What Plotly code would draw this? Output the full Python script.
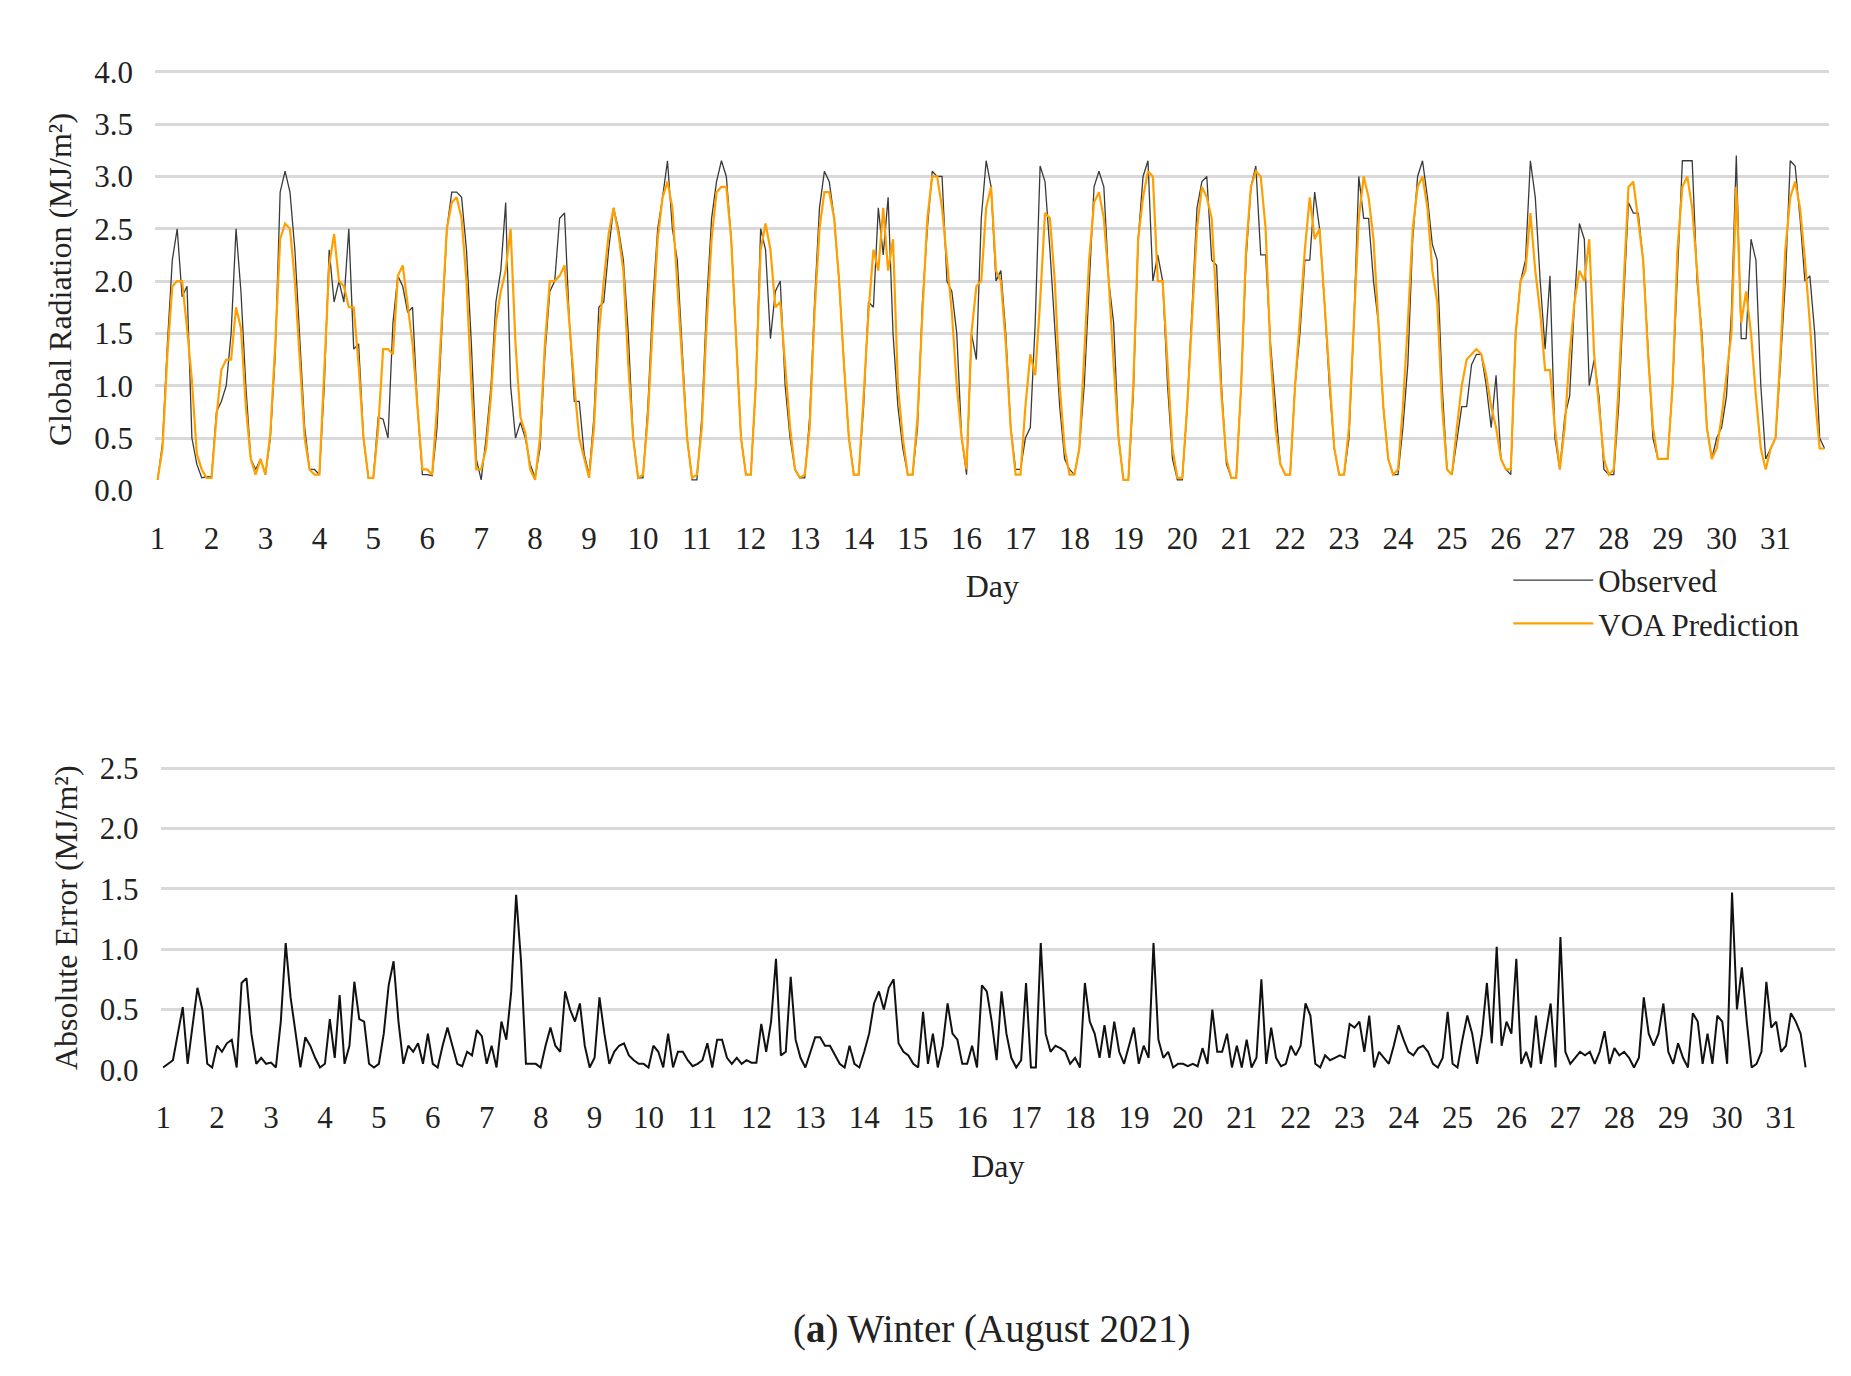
import plotly.graph_objects as go

days = [str(d) for d in range(1, 32)]
# hourly (daylight) values per day, 11 points each
observed = [
 [0.1,0.45,1.4,2.2,2.5,1.85,1.95,0.5,0.25,0.12,0.13],
 [0.13,0.75,0.85,1.0,1.5,2.5,1.9,1.0,0.3,0.2,0.3],
 [0.15,0.5,1.3,2.85,3.05,2.85,2.3,1.5,0.6,0.2,0.2],
 [0.15,1.0,2.3,1.8,2.0,1.8,2.5,1.35,1.4,0.5,0.12],
 [0.12,0.7,0.68,0.5,1.6,2.05,1.95,1.7,1.75,0.8,0.15],
 [0.15,0.14,0.6,1.5,2.5,2.85,2.85,2.8,2.3,1.4,0.3],
 [0.1,0.5,1.0,1.8,2.1,2.75,1.0,0.5,0.65,0.5,0.25],
 [0.12,0.4,1.3,1.9,2.0,2.6,2.65,1.6,0.85,0.85,0.35],
 [0.15,0.7,1.75,1.8,2.3,2.7,2.5,2.2,1.5,0.5,0.12],
 [0.12,0.8,1.8,2.5,2.8,3.15,2.5,2.2,1.3,0.5,0.1],
 [0.1,0.7,1.8,2.6,2.95,3.15,3.0,2.4,1.5,0.5,0.15],
 [0.15,1.0,2.5,2.3,1.45,1.9,2.0,1.0,0.5,0.2,0.12],
 [0.12,0.7,1.8,2.7,3.05,2.95,2.6,2.0,1.2,0.5,0.15],
 [0.15,0.8,1.8,1.75,2.7,2.25,2.8,1.5,0.8,0.4,0.15],
 [0.15,0.6,1.8,2.5,3.05,3.0,3.0,2.0,1.9,1.5,0.5],
 [0.15,1.5,1.25,2.6,3.15,2.9,2.0,2.1,1.5,0.6,0.2],
 [0.2,0.5,0.6,1.6,3.1,2.95,2.3,1.6,0.8,0.3,0.2],
 [0.15,0.4,1.0,2.0,2.9,3.05,2.9,2.0,1.6,0.5,0.1],
 [0.1,0.9,2.4,3.0,3.15,2.0,2.25,2.0,1.0,0.3,0.1],
 [0.1,0.8,1.7,2.7,2.95,3.0,2.2,2.15,1.0,0.25,0.12],
 [0.12,1.0,2.2,2.9,3.1,2.25,2.25,1.4,0.8,0.25,0.15],
 [0.15,1.0,1.5,2.2,2.2,2.85,2.5,1.8,1.0,0.4,0.15],
 [0.15,0.5,1.6,3.0,2.6,2.6,2.0,1.6,0.8,0.3,0.15],
 [0.15,0.6,1.2,2.4,3.0,3.15,2.8,2.35,2.2,1.0,0.2],
 [0.15,0.5,0.8,0.8,1.2,1.3,1.3,1.0,0.6,1.1,0.3],
 [0.2,0.15,1.5,2.0,2.2,3.15,2.8,2.0,1.35,2.05,0.5],
 [0.2,0.7,0.9,1.8,2.55,2.4,1.0,1.25,0.9,0.2,0.15],
 [0.15,0.8,1.8,2.75,2.65,2.65,2.2,1.4,0.5,0.3,0.3],
 [0.3,1.0,2.0,3.15,3.15,3.15,2.0,1.5,0.6,0.3,0.5],
 [0.6,0.9,1.7,3.2,1.45,1.45,2.4,2.2,1.0,0.3,0.4],
 [0.5,1.2,2.0,3.15,3.1,2.6,2.0,2.05,1.5,0.5,0.4],
]
predicted = [
 [0.1,0.4,1.3,1.95,2.0,2.0,1.55,1.05,0.35,0.2,0.12],
 [0.12,0.7,1.15,1.25,1.25,1.75,1.55,0.8,0.3,0.15,0.3],
 [0.15,0.55,1.4,2.4,2.55,2.5,2.0,1.2,0.5,0.2,0.15],
 [0.15,1.2,2.15,2.45,2.0,1.95,1.75,1.75,1.2,0.5,0.12],
 [0.12,0.6,1.35,1.35,1.3,2.05,2.15,1.8,1.4,0.8,0.2],
 [0.2,0.15,0.8,1.7,2.5,2.75,2.8,2.6,2.0,1.0,0.2],
 [0.2,0.4,0.9,1.6,1.9,2.1,2.5,1.4,0.7,0.55,0.2],
 [0.1,0.5,1.4,2.0,2.0,2.05,2.15,1.6,1.0,0.5,0.3],
 [0.12,0.6,1.5,2.0,2.45,2.7,2.45,2.1,1.2,0.5,0.12],
 [0.15,0.7,1.6,2.4,2.8,2.95,2.7,2.0,1.2,0.5,0.12],
 [0.15,0.6,1.6,2.4,2.85,2.9,2.9,2.4,1.5,0.5,0.15],
 [0.15,1.0,2.3,2.55,2.3,1.75,1.8,1.2,0.6,0.2,0.12],
 [0.15,0.6,1.7,2.5,2.85,2.85,2.6,2.0,1.2,0.5,0.15],
 [0.15,0.9,1.7,2.3,2.1,2.7,2.1,2.4,1.0,0.5,0.15],
 [0.15,0.7,1.7,2.6,3.0,3.0,2.7,2.2,1.7,1.0,0.5],
 [0.2,1.5,1.95,2.0,2.7,2.9,2.1,2.0,1.4,0.6,0.15],
 [0.15,0.8,1.3,1.1,1.8,2.65,2.6,2.0,1.0,0.4,0.15],
 [0.15,0.4,1.3,2.2,2.75,2.85,2.6,2.0,1.2,0.5,0.1],
 [0.1,1.0,2.4,2.8,3.05,3.0,2.0,2.0,1.2,0.4,0.12],
 [0.12,0.8,1.7,2.5,2.9,2.8,2.6,1.8,0.9,0.3,0.12],
 [0.12,1.0,2.3,2.9,3.05,3.0,2.5,1.3,0.6,0.25,0.15],
 [0.15,1.0,1.7,2.3,2.8,2.4,2.5,1.8,1.0,0.4,0.15],
 [0.15,0.6,1.6,2.6,3.0,2.8,2.4,1.6,0.8,0.3,0.15],
 [0.2,0.8,1.6,2.5,2.9,3.0,2.7,2.1,1.8,0.8,0.2],
 [0.15,0.6,1.0,1.25,1.3,1.35,1.3,1.1,0.8,0.6,0.3],
 [0.2,0.2,1.5,2.0,2.1,2.65,2.1,1.7,1.15,1.15,0.6],
 [0.2,0.6,1.3,1.8,2.1,2.0,2.4,1.3,0.8,0.3,0.15],
 [0.2,1.0,2.0,2.9,2.95,2.6,2.2,1.3,0.6,0.3,0.3],
 [0.3,1.0,2.3,2.9,3.0,2.7,2.1,1.4,0.6,0.3,0.4],
 [0.7,1.1,1.5,2.9,1.6,1.9,1.5,0.9,0.4,0.2,0.4],
 [0.5,1.3,2.3,2.8,2.95,2.7,2.2,1.6,0.9,0.4,0.4],
]
abs_error = [
 [0.02,0.05,0.08,0.3,0.52,0.05,0.35,0.68,0.5,0.05,0.02],
 [0.2,0.15,0.22,0.25,0.02,0.72,0.76,0.3,0.05,0.1,0.05],
 [0.06,0.02,0.4,1.05,0.6,0.3,0.02,0.27,0.2,0.1,0.02],
 [0.05,0.42,0.1,0.62,0.05,0.2,0.73,0.42,0.4,0.05,0.02],
 [0.05,0.3,0.7,0.9,0.4,0.05,0.2,0.15,0.22,0.05,0.3],
 [0.05,0.02,0.2,0.35,0.2,0.05,0.03,0.15,0.12,0.33,0.28],
 [0.05,0.2,0.02,0.4,0.25,0.65,1.45,0.9,0.05,0.05,0.05],
 [0.02,0.2,0.35,0.2,0.15,0.65,0.5,0.4,0.55,0.2,0.02],
 [0.1,0.6,0.3,0.05,0.15,0.2,0.22,0.12,0.08,0.05,0.05],
 [0.02,0.2,0.15,0.02,0.3,0.02,0.15,0.15,0.08,0.03,0.05],
 [0.08,0.22,0.02,0.25,0.25,0.1,0.05,0.1,0.05,0.08,0.06],
 [0.06,0.38,0.15,0.4,0.92,0.12,0.15,0.77,0.25,0.1,0.02],
 [0.15,0.27,0.27,0.2,0.2,0.12,0.05,0.02,0.2,0.05,0.02],
 [0.15,0.3,0.55,0.65,0.5,0.68,0.75,0.22,0.15,0.12,0.05],
 [0.02,0.48,0.05,0.3,0.02,0.2,0.55,0.3,0.25,0.05,0.05],
 [0.2,0.02,0.7,0.65,0.4,0.08,0.65,0.3,0.1,0.02,0.08],
 [0.72,0.02,0.02,1.05,0.3,0.15,0.2,0.18,0.15,0.05,0.1],
 [0.02,0.72,0.4,0.3,0.1,0.37,0.1,0.4,0.15,0.05,0.2],
 [0.35,0.05,0.2,0.1,1.05,0.25,0.1,0.15,0.02,0.05,0.05],
 [0.03,0.05,0.03,0.18,0.05,0.5,0.15,0.15,0.3,0.02,0.2],
 [0.02,0.25,0.02,0.1,0.75,0.05,0.35,0.1,0.03,0.05,0.2],
 [0.12,0.2,0.55,0.45,0.05,0.02,0.12,0.08,0.1,0.12,0.1],
 [0.38,0.35,0.4,0.15,0.45,0.02,0.15,0.1,0.05,0.2,0.37],
 [0.25,0.15,0.12,0.18,0.2,0.15,0.05,0.02,0.1,0.48,0.05],
 [0.02,0.25,0.45,0.3,0.05,0.3,0.72,0.22,1.02,0.2,0.4],
 [0.3,0.92,0.05,0.15,0.02,0.45,0.05,0.3,0.55,0.02,1.1],
 [0.15,0.05,0.1,0.15,0.12,0.15,0.05,0.15,0.32,0.05,0.18],
 [0.12,0.15,0.1,0.02,0.1,0.6,0.3,0.2,0.3,0.55,0.15],
 [0.05,0.22,0.1,0.02,0.47,0.4,0.05,0.3,0.05,0.45,0.4],
 [0.05,1.47,0.5,0.85,0.4,0.02,0.05,0.15,0.73,0.35,0.4],
 [0.15,0.2,0.47,0.4,0.3,0.02],
]

obs = [v for d in observed for v in d]
pred = [v for d in predicted for v in d]
err = [v for d in abs_error for v in d]
pts = len(observed[0])
x_top = list(range(len(obs)))
x_err = list(range(len(err)))
tickvals = [i * pts for i in range(len(days))]

FONT = "Liberation Serif"
GRID = "#d9d9d9"

fig = go.Figure()
fig.add_trace(go.Scatter(x=x_top, y=obs, mode="lines", name="Observed",
                         line=dict(color="#3a3a3a", width=1.3)))
fig.add_trace(go.Scatter(x=x_top, y=pred, mode="lines", name="VOA Prediction",
                         line=dict(color="#FFA000", width=2.2)))
fig.add_trace(go.Scatter(x=x_err, y=err, mode="lines", showlegend=False,
                         line=dict(color="#111111", width=2), xaxis="x2", yaxis="y2"))

axfont = dict(family=FONT, size=31, color="#222")
titlefont = dict(family=FONT, size=32, color="#222")
xcommon = dict(range=[-0.5, 341], tickvals=tickvals, ticktext=days, showgrid=False,
               zeroline=False, tickfont=axfont, ticks="outside", ticklen=20,
               tickcolor="rgba(0,0,0,0)")
fig.update_layout(
    width=1851, height=1376, paper_bgcolor="white", plot_bgcolor="white",
    margin=dict(l=0, r=0, t=0, b=0),
    font=dict(family=FONT, color="#222"),
    xaxis=dict(domain=[0.077, 0.984], title=dict(text="Day", font=titlefont, standoff=20), **xcommon),
    yaxis=dict(domain=[0.652, 0.966], range=[0, 4.03], tickvals=[0, 0.5, 1, 1.5, 2, 2.5, 3, 3.5, 4],
               tickformat=".1f", gridcolor=GRID, gridwidth=2.5, zeroline=False, tickfont=axfont,
               ticks="outside", ticklen=15, tickcolor="rgba(0,0,0,0)",
               title=dict(text="Global Radiation (MJ/m²)", font=titlefont, standoff=12)),
    xaxis2=dict(domain=[0.08, 0.987], anchor="y2",
                title=dict(text="Day", font=titlefont, standoff=20), **xcommon),
    yaxis2=dict(domain=[0.2205, 0.447], range=[0, 2.52], tickvals=[0, 0.5, 1, 1.5, 2, 2.5],
                tickformat=".1f", anchor="x2", gridcolor=GRID, gridwidth=2.5, zeroline=False,
                tickfont=axfont, ticks="outside", ticklen=15, tickcolor="rgba(0,0,0,0)",
                title=dict(text="Absolute Error (MJ/m²)", font=titlefont, standoff=12)),
    legend=dict(x=0.81, y=0.605, xanchor="left", yanchor="top",
                font=dict(family=FONT, size=31), itemwidth=80, tracegroupgap=10,
                bgcolor="rgba(0,0,0,0)"),
    annotations=[dict(text="(<b>a</b>) Winter (August 2021)", x=0.53, y=0.01, xref="paper",
                      yref="paper", yanchor="bottom", showarrow=False,
                      font=dict(family=FONT, size=39, color="#222"))],
)
fig.write_html("out.html")
